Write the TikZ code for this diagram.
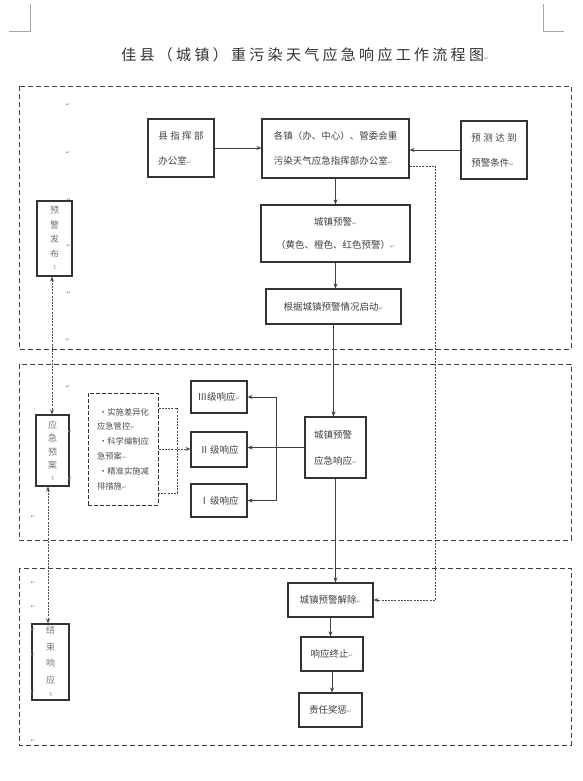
\documentclass[tikz,border=0pt]{standalone}
\usepackage{fontspec}
\usepackage{graphicx}
\setmainfont{Noto Sans CJK SC}
\newfontfamily\dejavu{DejaVu Sans}
\usetikzlibrary{arrows.meta}
\newcommand\retmark{{\dejavu\fontsize{5.5}{5.5}\selectfont\textcolor{black!45}{↵}}}
\newcommand\vretmark{\rotatebox{-90}{\retmark}}
\begin{document}
\begin{tikzpicture}[x=1pt,y=-1pt,
  sect/.style={draw=black!75, line width=0.9pt, dash pattern=on 5pt off 3pt},
  dotc/.style={draw=black!70, line width=0.9pt, dash pattern=on 2pt off 1.2pt},
  conn/.style={draw=black!75, line width=1pt},
  arr/.style={-{Stealth[length=5pt,width=4pt]}},
  darr/.style={{Stealth[length=5pt,width=4pt]}-{Stealth[length=5pt,width=4pt]}},
  box/.style={draw=black!80, line width=1.1pt, inner sep=0pt, text=black!75,
    font=\fontsize{9.5}{25}\selectfont},
  vbox/.style={draw=black!80, line width=1.1pt, inner sep=0pt, text=black!55,
    align=center},
  pm/.style={inner sep=0pt}
]
\useasboundingbox (0,0) rectangle (583,781);

% corner marks
\draw[black!35, line width=0.6pt] (9,31) -- (30,31) -- (30,4);
\draw[black!35, line width=0.6pt] (543,4) -- (543,31) -- (564,31);

% title
\node[text=black!80, font=\fontsize{15}{15}\selectfont\addfontfeature{LetterSpace=22}] (title) at (305,55) {佳县（城镇）重污染天气应急响应工作流程图\retmark};

% sections
\draw[sect] (19,86) rectangle (571,349);
\draw[sect] (19,364) rectangle (571,540);
\draw[sect] (19,568) rectangle (571,745);

% top row
\node[box, minimum width=66pt, minimum height=58pt, align=left] (xzh) at (181,148)
  {县\hspace{2.5pt}指\hspace{2.5pt}挥\hspace{2.5pt}部\\办公室\retmark};
\node[box, minimum width=147pt, minimum height=59pt, align=left] (gz) at (335.5,148.5)
  {各镇（办、中心）、管委会重\\污染天气应急指挥部办公室\retmark};
\node[box, minimum width=66pt, minimum height=58pt, align=left] (yc) at (494,150)
  {预\hspace{2.5pt}测\hspace{2.5pt}达\hspace{2.5pt}到\\预警条件\retmark};

\node[box, minimum width=149pt, minimum height=57pt, align=center,
  font=\fontsize{9.5}{23}\selectfont] (czyj) at (335.5,233.5)
  {城镇预警\retmark\\（黄色、橙色、红色预警）\retmark};
\node[box, minimum width=135pt, minimum height=35pt] (gj) at (333.5,306.5)
  {根据城镇预警情况启动\retmark};

% section 2
\node[box, minimum width=61pt, minimum height=61pt, align=left,
  font=\fontsize{9.5}{26}\selectfont] (xy) at (335.5,447.5)
  {城镇预警\\应急响应\retmark};
\node[box, minimum width=56pt, minimum height=32pt] (l3) at (219,397) {Ⅲ级响应\retmark};
\node[box, minimum width=56pt, minimum height=35pt] (l2) at (219,449.5) {Ⅱ\hspace{1pt}级响应};
\node[box, minimum width=56pt, minimum height=33pt] (l1) at (219,500.5) {Ⅰ\hspace{1pt}级响应};
\node[draw=black!80, line width=1pt, dash pattern=on 4pt off 2pt, inner sep=0pt,
  minimum width=70pt, minimum height=112pt, align=left, text=black!70,
  font=\fontsize{8.3}{14.8}\selectfont] (ms) at (123,449)
  {\hspace{2pt}·实施差异化\\应急管控\retmark\\\hspace{2pt}·科学编制应\\急预案\retmark\\\hspace{2pt}·精准实施减\\排措施\retmark};

% section 3
\node[box, minimum width=85pt, minimum height=34pt] (jc) at (330.5,600) {城镇预警解除\retmark};
\node[box, minimum width=62pt, minimum height=34pt] (zz) at (332,654) {响应终止\retmark};
\node[box, minimum width=63pt, minimum height=34pt] (jf) at (330.5,710) {责任奖惩\retmark};

% left vertical boxes
\node[vbox, minimum width=35pt, minimum height=75pt, font=\fontsize{9}{14.5}\selectfont] (yjfb) at (54.5,238.5) {预\\警\\发\\布\\[-6pt]\vretmark};
\node[vbox, minimum width=33pt, minimum height=71pt, font=\fontsize{9}{13.5}\selectfont] (yjya) at (52.5,450.5) {应\\急\\预\\案\\[-6pt]\vretmark};
\node[vbox, minimum width=37pt, minimum height=76pt, font=\fontsize{9}{16.5}\selectfont] (jsxy) at (50.5,662) {结\\束\\响\\应\\[-7pt]\vretmark};

% connectors
\draw[conn, arr] (xzh.east) -- (xzh.east -| gz.west);
\draw[conn, arr] (yc.west) -- (yc.west -| gz.east);
\draw[conn, arr] (gz.south) -- (gz.south |- czyj.north);
\draw[conn, arr] (czyj.south) -- (czyj.south |- gj.north);
\draw[conn, arr] (gj.south) -- (gj.south |- xy.north);
\draw[conn, arr] (xy.south) -- (xy.south |- jc.north);
\draw[conn, arr] (jc.south) -- (jc.south |- zz.north);
\draw[conn, arr] (zz.south) -- (zz.south |- jf.north);

\draw[conn, arr] (xy.west) -- (xy.west -| l2.east);
\coordinate (bus) at (276,447.5);
\draw[conn, arr] (bus) |- (l3.east);
\draw[conn, arr] (bus) |- (l1.east);

\draw[dotc] ([yshift=41pt]ms.east) -- ++(19,0) -- ++(0,85) -- ++(-19,0);
\draw[dotc, arr] (ms.east) -- (ms.east -| l2.west);

\draw[dotc, arr] ([yshift=-17.5pt]gz.east) -- ++(26,0) |- (jc.east);

\draw[dotc, darr] ([xshift=-2.5pt]yjfb.south) -- ([xshift=-0.5pt]yjya.north);
\draw[dotc, darr] ([xshift=-4.5pt]yjya.south) -- ([xshift=-2.5pt]jsxy.north);

% paragraph marks
\foreach \p/\q in {68/105, 68/153, 69/200, 69/246, 69/293, 68/340,
                   68/387, 70/432, 70/479, 33/517,
                   33/583, 33/607, 33/630, 33/655, 33/692, 33/741}
  \node[pm] at (\p,\q) {\retmark};
\end{tikzpicture}
\end{document}
